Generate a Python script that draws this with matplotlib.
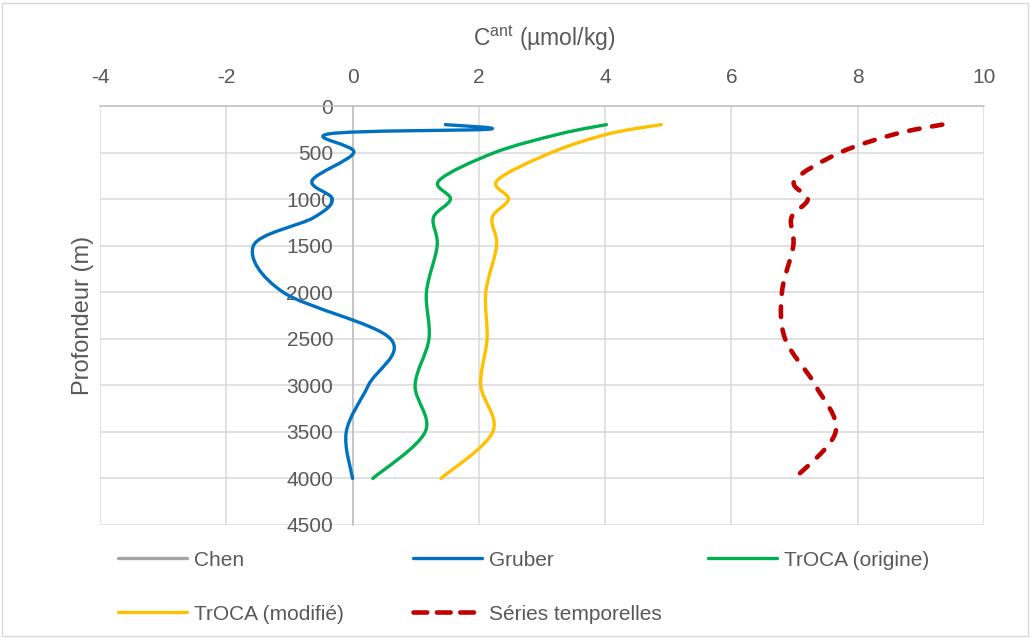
import matplotlib
matplotlib.use("Agg")
import numpy as np
import matplotlib.pyplot as plt
from matplotlib.path import Path
from matplotlib.patches import PathPatch, Rectangle
from matplotlib.lines import Line2D

plt.rcParams['font.family'] = ['Liberation Sans', 'DejaVu Sans']
plt.rcParams['mathtext.fontset'] = 'custom'
plt.rcParams['mathtext.rm'] = 'Liberation Sans'
plt.rcParams['mathtext.it'] = 'Liberation Sans:italic'
plt.rcParams['axes.unicode_minus'] = False

# Depth levels (m) and anthropogenic carbon estimates (µmol/kg)
depth = [200, 300, 500, 800, 1000, 1200, 1500, 2000, 2500, 3000, 3500, 4000]
gruber_depth = [200, 250, 300, 500, 800, 1000, 1200, 1500, 2000, 2500, 3000, 3500, 4000]

chen = []
gruber = [1.47, 2.15, -0.38, 0.02, -0.64, -0.32, -0.62, -1.57, -1.10, 0.60, 0.25, -0.10, 0.00]
troca_origine = [4.02, 3.28, 2.25, 1.37, 1.55, 1.28, 1.34, 1.17, 1.21, 0.99, 1.15, 0.32]
troca_modifie = [4.89, 4.05, 3.15, 2.29, 2.47, 2.21, 2.28, 2.11, 2.13, 2.03, 2.22, 1.40]
series_temporelles = [9.34, 8.60, 7.72, 7.00, 7.21, 6.95, 6.98, 6.80, 6.85, 7.33, 7.65, 7.00]

x_ticks = [-4, -2, 0, 2, 4, 6, 8, 10]
y_ticks = [0, 500, 1000, 1500, 2000, 2500, 3000, 3500, 4000, 4500]

TEXT = '#595959'
W, H = 1031, 638


def smooth_path(xs, ys):
    """Smoothed line through the points (Catmull-Rom as cubic Bezier)."""
    pts = np.column_stack([xs, ys]).astype(float)
    n = len(pts)
    verts = [pts[0]]
    codes = [Path.MOVETO]
    for i in range(n - 1):
        p0 = pts[max(i - 1, 0)]
        p1 = pts[i]
        p2 = pts[i + 1]
        p3 = pts[min(i + 2, n - 1)]
        c1 = p1 + (p2 - p0) / 6.0
        c2 = p2 - (p3 - p1) / 6.0
        verts += [c1, c2, p2]
        codes += [Path.CURVE4] * 3
    return Path(verts, codes)


fig = plt.figure(figsize=(W / 100, H / 100), dpi=100)
ax = fig.add_axes([100 / W, 1 - 525 / H, 884 / W, 419 / H])
ax.set_xlim(-4, 10)
ax.set_ylim(4500, 0)
ax.set_xticks(x_ticks)
ax.set_yticks(y_ticks)
ax.set_xticklabels([str(v) for v in x_ticks])
ax.set_yticklabels([str(v) for v in y_ticks])
ax.xaxis.tick_top()
ax.set_axisbelow(True)
ax.grid(True, color='#D9D9D9', lw=1.1)

for side in ('right', 'bottom'):
    ax.spines[side].set_visible(False)
ax.spines['left'].set_position(('data', 0))
for side in ('left', 'top'):
    ax.spines[side].set_color('#BFBFBF')
    ax.spines[side].set_linewidth(1.1)
    ax.spines[side].set_zorder(0.6)

ax.tick_params(axis='both', length=0, labelcolor=TEXT, labelsize=15)
ax.tick_params(axis='x', pad=14)
ax.tick_params(axis='y', pad=14)

series = [
    ('Gruber', gruber_depth, gruber, '#0070C0', 2.4, '-'),
    ('TrOCA (origine)', depth, troca_origine, '#00B050', 2.4, '-'),
    ('TrOCA (modifié)', depth, troca_modifie, '#FFC000', 2.4, '-'),
    ('Séries temporelles', depth, series_temporelles, '#C00000', 3.3, (0, (2.3, 2.75))),
]
for name, d, vals, col, lw, ls in series:
    patch = PathPatch(smooth_path(vals, d), fill=False, edgecolor=col, lw=lw,
                      linestyle=ls, capstyle='round', joinstyle='round', zorder=2)
    ax.add_patch(patch)

# Axis titles
fig.text(544 / W, 1 - 38 / H, r'C$^{\mathrm{ant}}$ (µmol/kg)', ha='center', va='center',
         fontsize=16.5, color=TEXT)
fig.text(83 / W, 1 - 315 / H, 'Profondeur (m)', rotation=90, ha='center', va='center',
         fontsize=17, color=TEXT)

# Legend entries
legend_items = [
    ('Chen', Line2D([], [], color='#A5A5A5', lw=2.4, solid_capstyle='round'), 118, 560),
    ('Gruber', Line2D([], [], color='#0070C0', lw=2.4, solid_capstyle='round'), 413, 560),
    ('TrOCA (origine)', Line2D([], [], color='#00B050', lw=2.4, solid_capstyle='round'), 708, 560),
    ('TrOCA (modifié)', Line2D([], [], color='#FFC000', lw=2.4, solid_capstyle='round'), 118, 614),
    ('Séries temporelles', Line2D([], [], color='#C00000', lw=3.3, linestyle=(0, (3.0, 2.1)),
                                  dash_capstyle='round'), 413, 614),
]
for label, handle, lx, ly in legend_items:
    fig.legend(handles=[handle], labels=[label], loc='center left',
               bbox_to_anchor=(lx / W, 1 - ly / H), frameon=False, borderpad=0,
               borderaxespad=0, handlelength=3.3, handletextpad=0.35,
               fontsize=15, labelcolor=TEXT)

fig.patches.append(Rectangle((2 / W, 2 / H), 1 - 5 / W, 1 - 5 / H, transform=fig.transFigure,
                             fill=False, edgecolor='#D9D9D9', lw=1.0))

fig.savefig('out.png', dpi=100, facecolor='white')
